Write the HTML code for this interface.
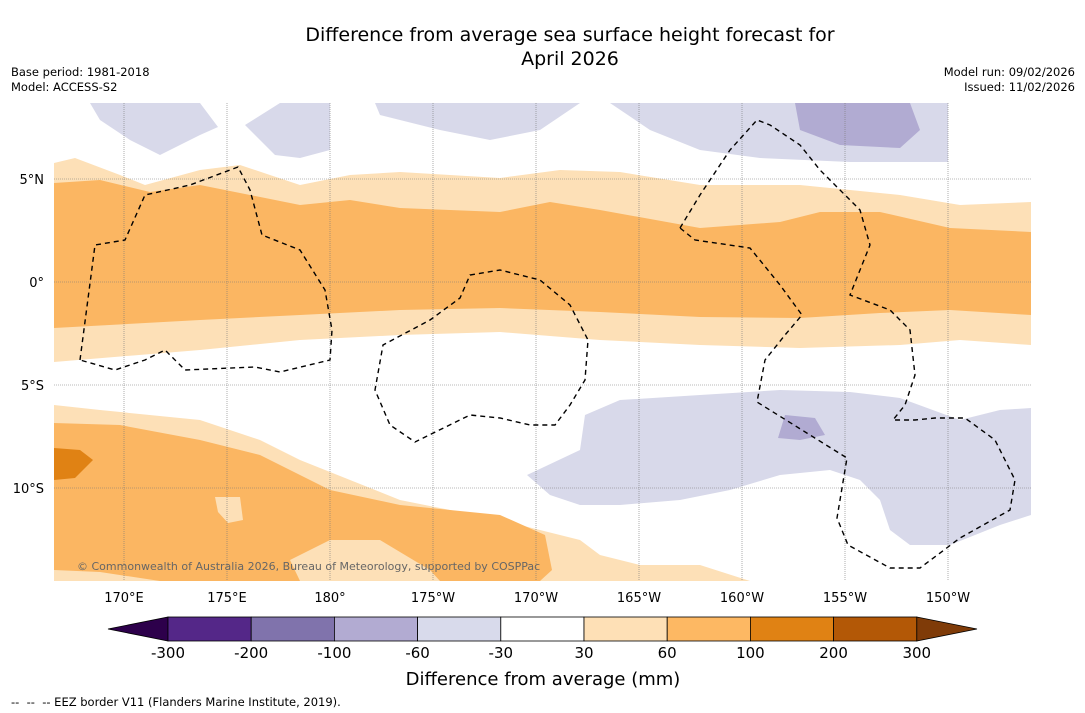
<!DOCTYPE html>
<html><head><meta charset="utf-8">
<style>
body{margin:0;background:#fff;font-family:"DejaVu Sans","Liberation Sans",sans-serif;}
.t{position:absolute;color:#000;}
svg text{font-family:"DejaVu Sans","Liberation Sans",sans-serif;}
</style></head>
<body>
<div style="position:relative;width:1085px;height:713px;overflow:hidden">
<div class="t" style="left:0;width:1140px;top:23px;text-align:center;font-size:19px;line-height:24px">Difference from average sea surface height forecast for<br>April 2026</div>
<div class="t" style="left:11px;top:65px;font-size:11.5px;line-height:15px">Base period: 1981-2018<br>Model: ACCESS-S2</div>
<div class="t" style="right:10px;top:65px;font-size:11.5px;line-height:15px;text-align:right">Model run: 09/02/2026<br>Issued: 11/02/2026</div>
<svg id="svg" width="1085" height="713" style="position:absolute;left:0;top:0">
<defs><clipPath id="mc"><rect x="54" y="103" width="977" height="478"/></clipPath></defs>
<g clip-path="url(#mc)">
<path fill="#fde0b7" d="M54,163 L75,158 120,175 145,185 200,170 240,165 270,175 300,185 350,175 400,172 500,178 560,170 620,172 700,185 800,185 850,190 900,195 960,205 1031,202 L1031,345 960,340 900,345 800,348 700,345 600,340 500,332 400,335 300,340 200,350 54,362Z"/>
<path fill="#fbb662" d="M54,183 L100,180 150,192 200,185 250,195 300,205 350,200 400,208 500,212 550,202 600,210 700,228 780,222 820,212 880,212 950,228 1031,232 L1031,315 950,310 880,313 800,318 700,317 600,312 500,308 400,310 300,315 200,320 54,328Z"/>
<path fill="#fde0b7" d="M54,405 L100,410 200,420 260,440 300,460 400,500 500,520 580,540 600,555 640,565 700,565 750,581 54,581Z"/>
<path fill="#fbb662" d="M54,423 L120,425 200,440 260,455 330,490 400,505 500,515 545,535 552,570 540,581 160,581 100,572 54,570Z"/>
<path fill="#fde0b7" d="M215,497 L240,497 243,520 228,523 218,512Z M290,560 L330,540 380,540 430,570 440,581 300,581Z"/>
<path fill="#e08214" d="M54,448 L80,450 93,460 75,478 54,480Z"/>
<path fill="#d8d9ea" d="M90,103 L100,120 130,140 160,155 200,135 218,127 200,103Z M245,125 L275,155 300,158 330,150 330,103 280,103Z M375,103 L380,115 440,130 490,140 540,130 580,103Z M610,103 L650,130 700,150 760,158 850,162 948,162 948,103Z M527,475 L580,450 585,415 620,400 700,395 780,390 850,392 900,398 960,420 1000,410 1031,408 1031,515 1000,525 950,545 910,545 890,530 880,500 860,480 830,470 780,475 730,490 680,500 620,505 580,505 550,495Z"/>
<path fill="#b1abd2" d="M795,103 L800,130 840,145 900,148 920,130 910,103Z M785,415 L815,418 825,435 800,440 778,438Z"/>
<g id="grid"></g>
<path fill="none" stroke="#000" stroke-width="1.4" stroke-dasharray="5,4" d="M80,360 L95,245 125,240 145,195 190,185 238,167 250,190 262,235 300,250 325,290 332,330 330,360 280,372 255,367 185,370 165,350 145,360 115,370 80,360Z M470,275 L500,270 540,280 570,305 588,340 585,380 570,405 555,425 530,425 500,418 470,415 415,442 390,425 375,390 383,345 430,320 460,298Z M680,228 L700,195 730,150 757,120 770,125 800,145 820,170 835,185 860,210 870,245 850,295 890,310 910,330 915,375 905,405 893,420 915,420 935,418 965,418 995,440 1015,480 1010,510 960,538 920,568 890,568 848,545 837,518 847,458 757,402 765,360 785,335 802,315 780,285 750,248 695,240Z"/>
<text x="77" y="570" font-size="11" fill="#666">© Commonwealth of Australia 2026, Bureau of Meteorology, supported by COSPPac</text>
</g>
<g id="axes" font-size="13"></g>
<g id="cbar"></g>
<text x="543" y="685" font-size="18" text-anchor="middle">Difference from average (mm)</text>
<text x="11" y="706" font-size="11.5" xml:space="preserve">--  --  -- EEZ border V11 (Flanders Marine Institute, 2019).</text>
</svg>
<script>
const lonTicks=[170,175,180,-175,-170,-165,-160,-155,-150];
const lonLabels=["170°E","175°E","180°","175°W","170°W","165°W","160°W","155°W","150°W"];
const latTicks=[5,0,-5,-10];
const latLabels=["5°N","0°","5°S","10°S"];
const levels=["-300","-200","-100","-60","-30","30","60","100","200","300"];
const colors=["#542788","#8073ac","#b2abd2","#d8daeb","#ffffff","#fee0b6","#fdb863","#e08214","#b35806"];
const ns="http://www.w3.org/2000/svg";
const xOf=l=>{let e=l<0?l+360:l;return 124+(e-170)*20.6;};
const yOf=a=>282-a*20.6;
const g=document.getElementById('grid'),ax=document.getElementById('axes'),cb=document.getElementById('cbar');
function mk(t,a,p){const e=document.createElementNS(ns,t);for(const k in a)e.setAttribute(k,a[k]);p.appendChild(e);return e;}
lonTicks.forEach((l,i)=>{const x=xOf(l);
const ln=mk('line',{x1:x,x2:x,y1:103,y2:581,stroke:'#777','stroke-width':0.6,'stroke-dasharray':'1,1'},g);

const t=mk('text',{x:x,y:602,'text-anchor':'middle'},ax);t.textContent=lonLabels[i];
});
latTicks.forEach((a,i)=>{const y=yOf(a);
const ln=mk('line',{x1:54,x2:1031,y1:y,y2:y,stroke:'#777','stroke-width':0.6,'stroke-dasharray':'1,1'},g);

const t=mk('text',{x:44,y:y+5,'text-anchor':'end'},ax);t.textContent=latLabels[i];
});
const x0=168,w=83.2,y0=617,h=24;
const lt=mk('polygon',{points:`108,${y0+h/2} ${x0},${y0} ${x0},${y0+h}`,fill:'#2d004b',stroke:'#000','stroke-width':0.8},cb);

colors.forEach((c,i)=>{const r=mk('rect',{x:x0+i*w,y:y0,width:w,height:h,fill:c,stroke:'#000','stroke-width':0.8},cb);
});
const xe=x0+colors.length*w;
const rt=mk('polygon',{points:`${xe},${y0} 977,${y0+h/2} ${xe},${y0+h}`,fill:'#7f3b08',stroke:'#000','stroke-width':0.8},cb);

levels.forEach((s,i)=>{const t=mk('text',{x:x0+i*w,y:658,'text-anchor':'middle','font-size':15},cb);t.textContent=s;
});
</script>
</div>
</body></html>
